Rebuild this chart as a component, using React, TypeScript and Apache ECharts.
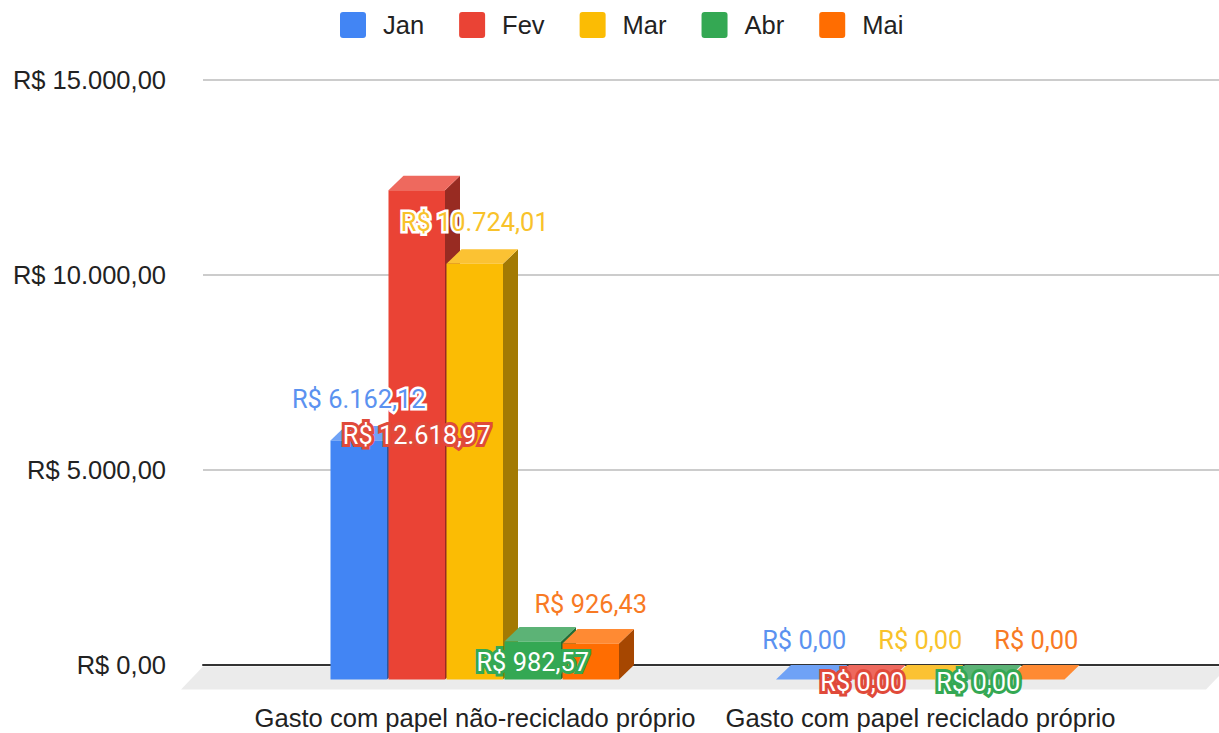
import React, { useEffect, useRef } from "react";
import * as echarts from "echarts";

const categories = ["Gasto com papel não-reciclado próprio", "Gasto com papel reciclado próprio"];
const months = ["Jan", "Fev", "Mar", "Abr", "Mai"];
const jan = [6162.12, 0];
const fev = [12618.97, 0];
const mar = [10724.01, 0];
const abr = [982.57, 0];
const mai = [926.43, 0];
const monthValues = [jan, fev, mar, abr, mai];

const frontColors = ["#4285F4", "#EA4335", "#FBBC04", "#34A853", "#FF6D01"];
const topColors = ["#6FA2F6", "#EE695E", "#FBC233", "#5CB376", "#FF8A33"];
const sideColors = ["#2B579F", "#982B22", "#A37A03", "#226E36", "#A64701"];
const labelFills = ["#5B92F0", "#FFFFFF", "#F8C22B", "#FFFFFF", "#F87A24"];
const labelStrokes = ["#FFFFFF", "#E04A3A", "#FFFFFF", "#34A853", "#FFFFFF"];

// vertical label offset from the top of the front face (px), per month and per category
const labelShift = [
  [-41.5, -40],
  [245, 2],
  [-41.5, -40],
  [20.5, 2],
  [-40, -40],
];

const DEPTH_X = 15;
const DEPTH_Y = 14.5;
const FRONT_SCALE = 0.994;
const FONT = "'Liberation Sans', Arial, sans-serif";
const LEGEND_ICON =
  "path://M3 0H23A3 3 0 0 1 26 3V23A3 3 0 0 1 23 26H3A3 3 0 0 1 0 23V3A3 3 0 0 1 3 0Z";

const money = (v: number) => {
  const [i, d] = v.toFixed(2).split(".");
  return "R$ " + i.replace(/\B(?=(\d{3})+$)/g, ".") + "," + d;
};

function barRenderer(m: number) {
  return (params: any, api: any) => {
    const cat = api.value(0);
    const val = api.value(1);
    const center = api.coord([cat, 0]);
    const band = api.size([1, 0])[0];
    const step = band * 0.1302;
    const base = center[1] + DEPTH_Y;
    const top = base - (center[1] - api.coord([cat, val])[1]) * FRONT_SCALE;
    const x0 = center[0] + (m - 2.5) * step + 0.5;
    const x1 = x0 + step - 1.5;
    const midX = (x0 + x1) / 2;
    return {
      type: "group",
      children: [
        {
          type: "polygon",
          shape: { points: [[x1, top], [x1 + DEPTH_X, top - DEPTH_Y], [x1 + DEPTH_X, base - DEPTH_Y], [x1, base]] },
          style: { fill: sideColors[m] },
        },
        {
          type: "polygon",
          shape: { points: [[x0, top], [x0 + DEPTH_X, top - DEPTH_Y], [x1 + DEPTH_X, top - DEPTH_Y], [x1, top]] },
          style: { fill: topColors[m] },
        },
        {
          type: "rect",
          shape: { x: x0, y: top, width: x1 - x0, height: base - top },
          style: { fill: frontColors[m] },
        },
        {
          type: "text",
          z2: 100,
          x: midX,
          y: top + labelShift[m][cat],
          style: {
            text: money(val),
            fill: labelFills[m],
            stroke: labelStrokes[m],
            lineWidth: labelFills[m] === "#FFFFFF" ? 6 : 5,
            font: "25.4px Roboto",
            align: "center",
            verticalAlign: "middle",
          },
        },
      ],
    };
  };
}

export default function App() {
  const ref = useRef<HTMLDivElement>(null);
  useEffect(() => {
    const chart = echarts.init(ref.current!, null, { renderer: "svg" });
    chart.setOption({
      animation: false,
      backgroundColor: "#fff",
      legend: {
        left: 335,
        top: 7,
        itemWidth: 26,
        itemHeight: 26,
        itemGap: 35,
        icon: LEGEND_ICON,
        data: months,
        textStyle: { fontFamily: FONT, fontSize: 25.5, color: "#222", padding: [0, 0, 0, 12] },
      },
      grid: [
        { left: 252.25, width: 891, top: 80, height: 585 },
        { left: 203, right: 0, top: 80, height: 585 },
      ],
      xAxis: [
        {
          type: "category",
          gridIndex: 0,
          data: categories,
          axisLine: { show: false },
          axisTick: { show: false },
          axisLabel: { interval: 0, margin: 40, fontFamily: FONT, fontSize: 25.6, color: "#222" },
        },
        {
          type: "category",
          gridIndex: 1,
          data: categories,
          axisLine: { show: true, lineStyle: { color: "#333", width: 2 } },
          axisTick: { show: false },
          axisLabel: { show: false },
        },
      ],
      yAxis: [
        { type: "value", gridIndex: 0, min: 0, max: 15000, interval: 5000, show: false },
        {
          type: "value",
          gridIndex: 1,
          min: 0,
          max: 15000,
          interval: 5000,
          axisLine: { show: false },
          axisTick: { show: false },
          splitLine: { lineStyle: { color: "#CCCCCC", width: 2 } },
          axisLabel: { margin: 37, fontFamily: FONT, fontSize: 25.5, color: "#222", formatter: (v: number) => money(v) },
        },
      ],
      graphic: {
        elements: [
          {
            type: "polygon",
            silent: true,
            z: -1,
            shape: { points: [[203, 666.5], [1219, 666.5], [1219, 676], [1206, 689.5], [181, 689.5]] },
            style: { fill: "#EBEBEB" },
          },
        ],
      },
      series: months.map((name, m) => ({
        name,
        type: "custom",
        xAxisIndex: 0,
        yAxisIndex: 0,
        clip: false,
        itemStyle: { color: frontColors[m] },
        encode: { x: 0, y: 1 },
        data: monthValues[m].map((v, c) => [c, v]),
        renderItem: barRenderer(m),
      })),
    });
    return () => chart.dispose();
  }, []);
  return <div ref={ref} style={{ position: "fixed", left: 0, top: 0, width: 1219, height: 733 }} />;
}
